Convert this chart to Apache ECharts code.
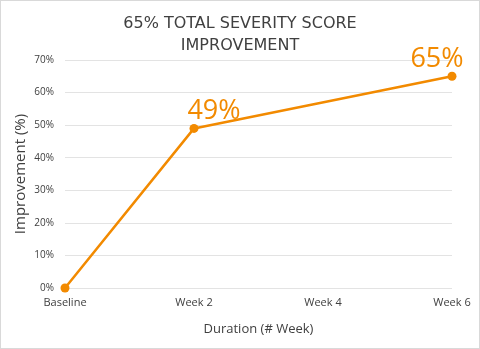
<!DOCTYPE html>
<html><head><meta charset="utf-8">
<script src="https://cdn.jsdelivr.net/npm/echarts@6/dist/echarts.min.js"></script>
<style>html,body{margin:0;padding:0;background:#fff}#c{width:480px;height:349px;box-sizing:border-box;border:1px solid #d9d9d9}</style>
</head><body><div id="c"></div>
<script>
const categories = ['Baseline', 'Week 2', 'Week 4', 'Week 6'];
const improvement = [0, 49, null, 65];
const yTicks = [0, 10, 20, 30, 40, 50, 60, 70];
const titleLines = ['65% TOTAL SEVERITY SCORE', 'IMPROVEMENT'];
const orange = '#F28A00';
const chart = echarts.init(document.getElementById('c'));
chart.setOption({
  animation: false,
  title: {
    text: titleLines.join('\n'), left: 'center', top: 7,
    textStyle: { fontFamily: 'DejaVu Sans', fontWeight: 'normal', fontSize: 16, color: '#404040', lineHeight: 22 }
  },
  grid: { left: 64, right: 27, top: 59, bottom: 60, outerBoundsMode: 'none', containLabel: false },
  xAxis: {
    type: 'category', data: categories, boundaryGap: false,
    axisLine: { show: false }, axisTick: { show: false },
    axisLabel: { fontFamily: 'Open Sans', fontSize: 11, color: '#404040', margin: 9 },
    name: 'Duration (# Week)', nameLocation: 'middle', nameGap: 35, nameMoveOverlap: false,
    nameTextStyle: { fontFamily: 'Open Sans', fontSize: 13, color: '#404040' }
  },
  yAxis: {
    type: 'value', min: 0, max: 70, interval: 10,
    axisLabel: { fontFamily: 'Open Sans', fontSize: 10, color: '#404040', formatter: v => yTicks.includes(v) ? v + '%' : '', margin: 11 },
    splitLine: { lineStyle: { color: '#e3e3e3', width: 1 } },
    axisLine: { show: false }, axisTick: { show: false },
    name: 'Improvement (%)', nameLocation: 'middle', nameGap: 37, nameRotate: 90, nameMoveOverlap: false,
    nameTextStyle: { fontFamily: 'Open Sans', fontSize: 15, color: '#404040' }
  },
  series: [{
    type: 'line', data: improvement.map((v, i) => {
      if (v === null) return null;
      const o = { value: v };
      if (i === 1) o.label = { show: true, offset: [20, 6] };
      if (i === 3) o.label = { show: true, offset: [-15, 6] };
      return o;
    }),
    connectNulls: true,
    symbol: 'circle', symbolSize: 9,
    lineStyle: { color: orange, width: 2.5 },
    itemStyle: { color: orange },
    label: { show: false, position: 'top', formatter: p => p.value + '%', fontFamily: 'Open Sans', fontSize: 27, color: orange }
  }]
});
</script></body></html>
